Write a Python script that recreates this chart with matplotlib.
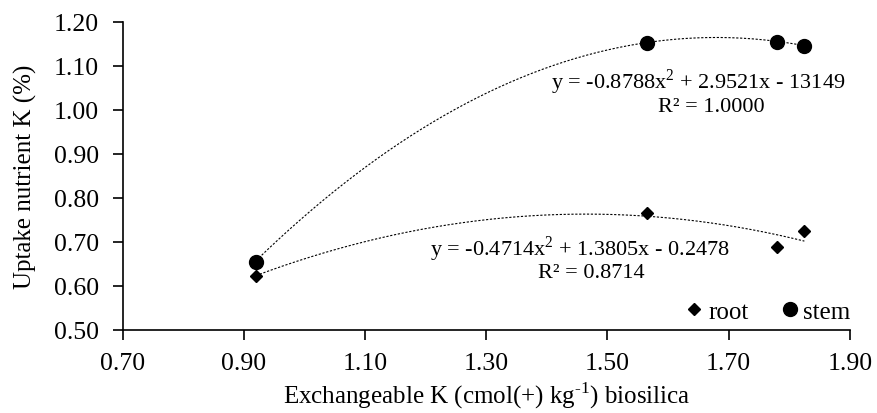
import numpy as np
import matplotlib.pyplot as plt

plt.rcParams['font.family'] = ['Liberation Serif', 'DejaVu Serif']
plt.rcParams['mathtext.fontset'] = 'custom'
plt.rcParams['mathtext.rm'] = 'Liberation Serif'

# exchangeable K in biosilica treatments
exch_k = [0.92, 1.565, 1.78, 1.825]
root_k = [0.622, 0.765, 0.688, 0.725]
stem_k = [0.655, 1.152, 1.155, 1.146]

# quadratic trendline coefficients (a, b, c)
root_fit = [-0.4714, 1.3805, -0.2478]
stem_fit = [-0.8788, 2.9521, -1.3149]
root_r2 = 0.8714
stem_r2 = 1.0000

fig = plt.figure(figsize=(8.77, 4.14), dpi=100)
ax = fig.add_axes([0.140, 0.201, 0.829, 0.744])

xs = np.linspace(min(exch_k), max(exch_k), 200)
ax.plot(xs, np.polyval(stem_fit, xs), color='black', lw=0.8, ls=(0, (2, 1.5)))
ax.plot(xs, np.polyval(root_fit, xs), color='black', lw=0.8, ls=(0, (2, 1.5)))

ax.plot(exch_k, root_k, 'D', color='black', ms=6.5, ls='none', label='root')
ax.plot(exch_k, stem_k, 'o', color='black', ms=10, ls='none', label='stem')

eq_fs = 16
ax.text(1.407, 1.064, 'y = -0.8788x$^2$ + 2.9521x - 13149', fontsize=eq_fs, va='center', ha='left')
ax.text(1.671, 1.008, 'R² = %.4f' % stem_r2, fontsize=eq_fs, va='center', ha='center')
ax.text(1.207, 0.686, 'y = -0.4714x$^2$ + 1.3805x - 0.2478', fontsize=eq_fs, va='center', ha='left')
ax.text(1.473, 0.631, 'R² = %.4f' % root_r2, fontsize=eq_fs, va='center', ha='center')

ax.set_xlim(0.70, 1.90)
ax.set_ylim(0.50, 1.20)
ax.set_xticks(np.arange(0.70, 1.91, 0.20))
ax.set_yticks(np.arange(0.50, 1.21, 0.10))
ax.xaxis.set_major_formatter(plt.FormatStrFormatter('%.2f'))
ax.yaxis.set_major_formatter(plt.FormatStrFormatter('%.2f'))
ax.tick_params(labelsize=18.5, direction='out', length=7, width=1.2)
ax.tick_params(axis='y', pad=10)
ax.tick_params(axis='x', pad=9)
for side in ['top', 'right']:
    ax.spines[side].set_visible(False)
for side in ['left', 'bottom']:
    ax.spines[side].set_linewidth(1.2)

ax.set_xlabel(r'Exchangeable K (cmol(+) kg$^{\text{-}1}$) biosilica', fontsize=18, labelpad=4)
ax.set_ylabel('Uptake nutrient K (%)', fontsize=18, labelpad=12)

ax.legend(loc='lower right', ncol=2, frameon=False, fontsize=18, handlelength=0.5,
          handletextpad=0.3, columnspacing=1.4, borderaxespad=0.0,
          bbox_to_anchor=(1.015, -0.01))

fig.savefig('out.png', dpi=100)
